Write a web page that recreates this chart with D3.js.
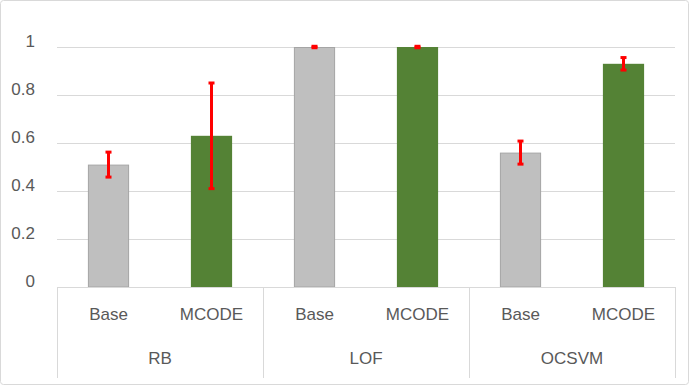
<!DOCTYPE html>
<html>
<head>
<meta charset="utf-8">
<script src="https://cdn.jsdelivr.net/npm/d3@7"></script>
<style>
  body { margin: 0; background: #fff; }
  svg text { font-family: "Liberation Sans", Arial, sans-serif; fill: #595959; }
</style>
</head>
<body>
<svg id="mainsvg" width="689" height="385"></svg>
<script>
const groups = ['RB', 'LOF', 'OCSVM']
const methods = ['Base', 'MCODE']
const values = [[0.51, 0.63], [1.0, 1.0], [0.56, 0.93]]
const errors = [[0.052, 0.22], [0.003, 0.003], [0.048, 0.026]]
const yTicks = [0, 0.2, 0.4, 0.6, 0.8, 1]
const colors = {Base: '#bfbfbf', MCODE: '#548235'}

const svg = d3.select('#mainsvg')
const margin = {left: 57, right: 14, top: 47, bottom: 98}
const width = 689, height = 385

// outer frame
svg.append('rect')
  .attr('x', 0.5).attr('y', 0.5)
  .attr('width', width - 1).attr('height', height - 1)
  .attr('rx', 3)
  .attr('fill', '#fff').attr('stroke', '#d9d9d9')

const x0 = d3.scaleBand().domain(groups).range([margin.left, width - margin.right])
const x1 = d3.scaleBand().domain(methods).range([0, x0.bandwidth()]).paddingInner(0.6).paddingOuter(0.3)
const y = d3.scaleLinear().domain([0, 1]).range([height - margin.bottom, margin.top])

// gridlines
svg.append('g').selectAll('line').data(yTicks.slice(1)).join('line')
  .attr('x1', margin.left).attr('x2', width - margin.right)
  .attr('y1', d => Math.round(y(d)) + 0.5).attr('y2', d => Math.round(y(d)) + 0.5)
  .attr('stroke', '#d9d9d9')

// y labels
svg.append('g').selectAll('text').data(yTicks).join('text')
  .attr('x', 35).attr('y', d => y(d) - 5.5)
  .attr('text-anchor', 'end').attr('dy', '0.35em')
  .attr('font-size', 17)
  .text(d => d3.format('~g')(d))

// bars
const rows = []
groups.forEach((g, i) => methods.forEach((m, j) => rows.push({g, m, v: values[i][j], e: errors[i][j]})))

const bars = svg.append('g')
bars.selectAll('rect').data(rows).join('rect')
  .attr('x', d => x0(d.g) + x1(d.m) + (d.m === 'Base' ? 0.5 : 0))
  .attr('y', d => y(d.v) + (d.m === 'Base' ? 0.5 : 0))
  .attr('width', d => x1.bandwidth() - (d.m === 'Base' ? 1 : 0))
  .attr('height', d => y(0) - y(d.v) - (d.m === 'Base' ? 0.5 : 0))
  .attr('fill', d => colors[d.m])
  .attr('stroke', d => d.m === 'Base' ? '#a5a5a5' : 'none')

// error bars
const eb = svg.append('g')
const cx = d => x0(d.g) + x1(d.m) + x1.bandwidth() / 2
eb.selectAll('line.stem').data(rows).join('line')
  .attr('class', 'stem')
  .attr('x1', cx).attr('x2', cx)
  .attr('y1', d => y(d.v + d.e)).attr('y2', d => y(d.v - d.e))
  .attr('stroke', '#ff0000').attr('stroke-width', 3)
eb.selectAll('rect.cap').data(rows.flatMap(d => [{...d, c: d.v + d.e}, {...d, c: d.v - d.e}])).join('rect')
  .attr('class', 'cap')
  .attr('x', d => cx(d) - 3).attr('y', d => y(d.c) - 1.5)
  .attr('width', 6).attr('height', 3)
  .attr('fill', '#ff0000')

// category axis
const axisY = y(0)
svg.append('line')
  .attr('x1', margin.left).attr('x2', width - margin.right)
  .attr('y1', Math.round(axisY) + 0.5).attr('y2', Math.round(axisY) + 0.5)
  .attr('stroke', '#d9d9d9')
const seps = groups.map(g => x0(g)).concat([x0(groups[groups.length - 1]) + x0.bandwidth()])
svg.append('g').selectAll('line').data(seps).join('line')
  .attr('x1', d => Math.round(d) + 0.5).attr('x2', d => Math.round(d) + 0.5)
  .attr('y1', axisY).attr('y2', 378)
  .attr('stroke', '#d9d9d9')

svg.append('g').selectAll('text').data(rows).join('text')
  .attr('x', cx).attr('y', 314)
  .attr('text-anchor', 'middle').attr('dy', '0.35em').attr('font-size', 17)
  .text(d => d.m)

svg.append('g').selectAll('text').data(groups).join('text')
  .attr('x', d => x0(d) + x0.bandwidth() / 2).attr('y', 358)
  .attr('text-anchor', 'middle').attr('dy', '0.35em').attr('font-size', 17)
  .text(d => d)
</script>
</body>
</html>
